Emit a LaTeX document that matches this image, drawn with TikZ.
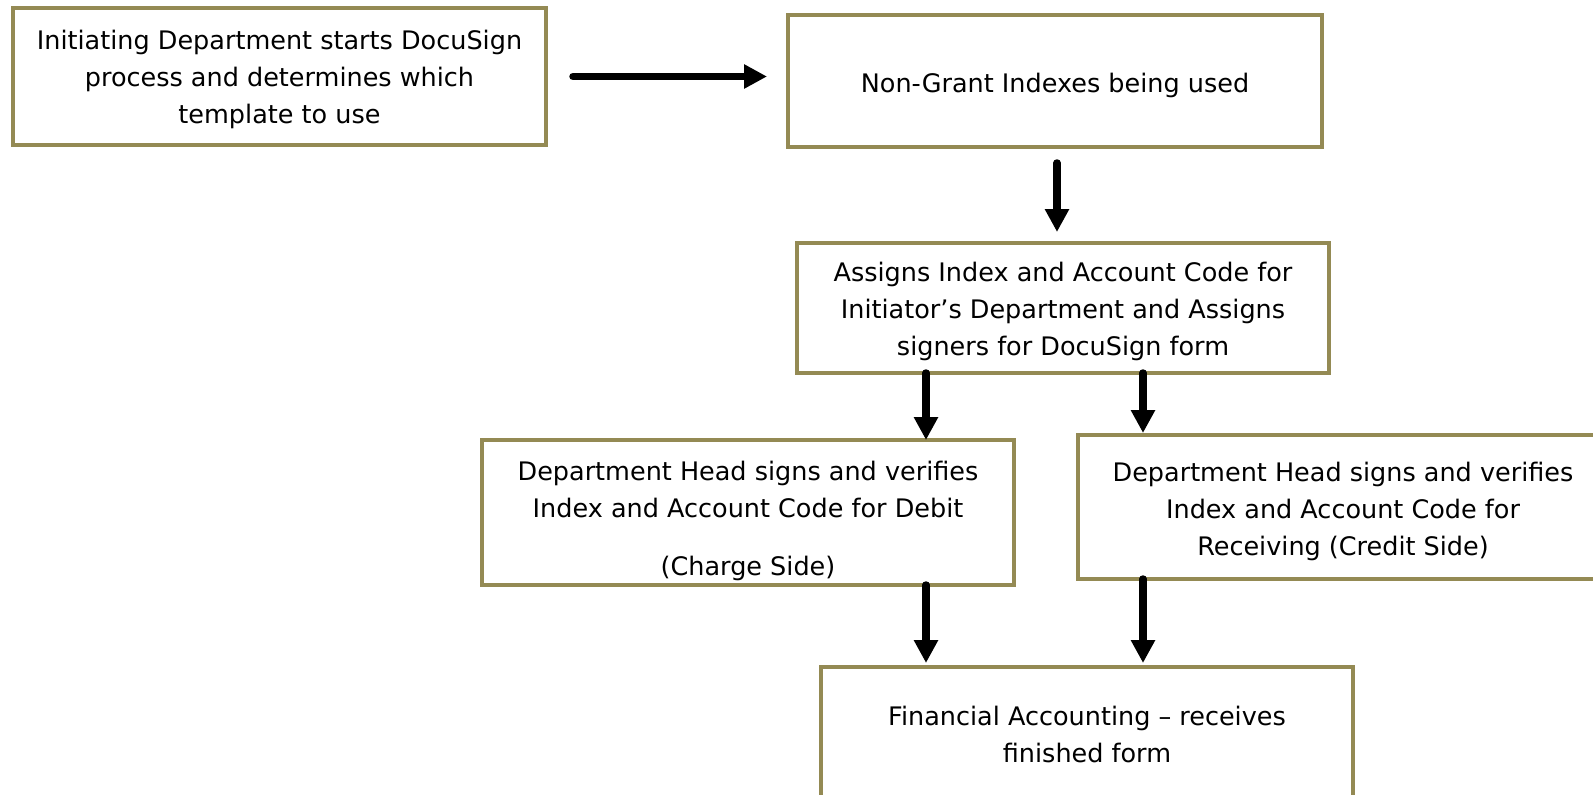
\documentclass[tikz,border=0pt]{standalone}
\usepackage{fontspec}
\setmainfont{DejaVu Sans}
\usetikzlibrary{arrows.meta}
\definecolor{boxtan}{HTML}{948A54}
\newcommand{\lift}[1]{\rule{0pt}{#1}}
\begin{document}
\begin{tikzpicture}[x=1bp,y=-1bp,
    stepbox/.style={draw=boxtan, line width=4bp, inner sep=0pt, outer sep=0pt, align=center,
        font=\fontsize{25.5bp}{37bp}\selectfont},
    flow/.style={line width=7.5bp, line cap=round, -{Triangle[length=23bp,width=23bp]}}]
    \fill[white] (0,0) rectangle (1593,795);
    \useasboundingbox (0,0) rectangle (1593,795);
    % boxes
    \node[stepbox, minimum width=533bp, minimum height=137bp] (start) at (279.5,76.5)
        {\lift{25.5bp}Initiating Department starts DocuSign\\process and determines which\\template to use};
    \node[stepbox, minimum width=534bp, minimum height=132bp] (nongrant) at (1055,81)
        {\lift{28bp}Non-Grant Indexes being used};
    \node[stepbox, minimum width=532bp, minimum height=130bp] (assign) at (1063,308)
        {\lift{26bp}Assigns Index and Account Code for\\Initiator’s Department and Assigns\\signers for DocuSign form};
    \node[stepbox, minimum width=532bp, minimum height=145bp] (debit) at (748,512.5)
        {\lift{36bp}Department Head signs and verifies\\Index and Account Code for Debit\\[21bp](Charge Side)};
    \node[stepbox, minimum width=530bp, minimum height=144bp] (credit) at (1343,507)
        {\lift{28bp}Department Head signs and verifies\\Index and Account Code for\\Receiving (Credit Side)};
    \node[stepbox, minimum width=532bp, minimum height=135bp] (finance) at (1087,734.5)
        {Financial Accounting – receives\\finished form};
    % arrows
    \coordinate (midcol) at (1057,0);
    \coordinate (leftcol) at (926,0);
    \coordinate (rightcol) at (1143,0);
    \draw[flow, shorten <=27bp, shorten >=21bp] (start.east) -- (start.east -| nongrant.west);
    \draw[flow, shorten <=16bp, shorten >=11bp] (nongrant.south -| midcol) -- (assign.north -| midcol);
    \draw[flow] (assign.south -| leftcol) -- (debit.north -| leftcol);
    \draw[flow, shorten >=2bp] (assign.south -| rightcol) -- (credit.north -| rightcol);
    \draw[flow, shorten >=4bp] (debit.south -| leftcol) -- (finance.north -| leftcol);
    \draw[flow, shorten >=4bp] (credit.south -| rightcol) -- (finance.north -| rightcol);
\end{tikzpicture}
\end{document}
